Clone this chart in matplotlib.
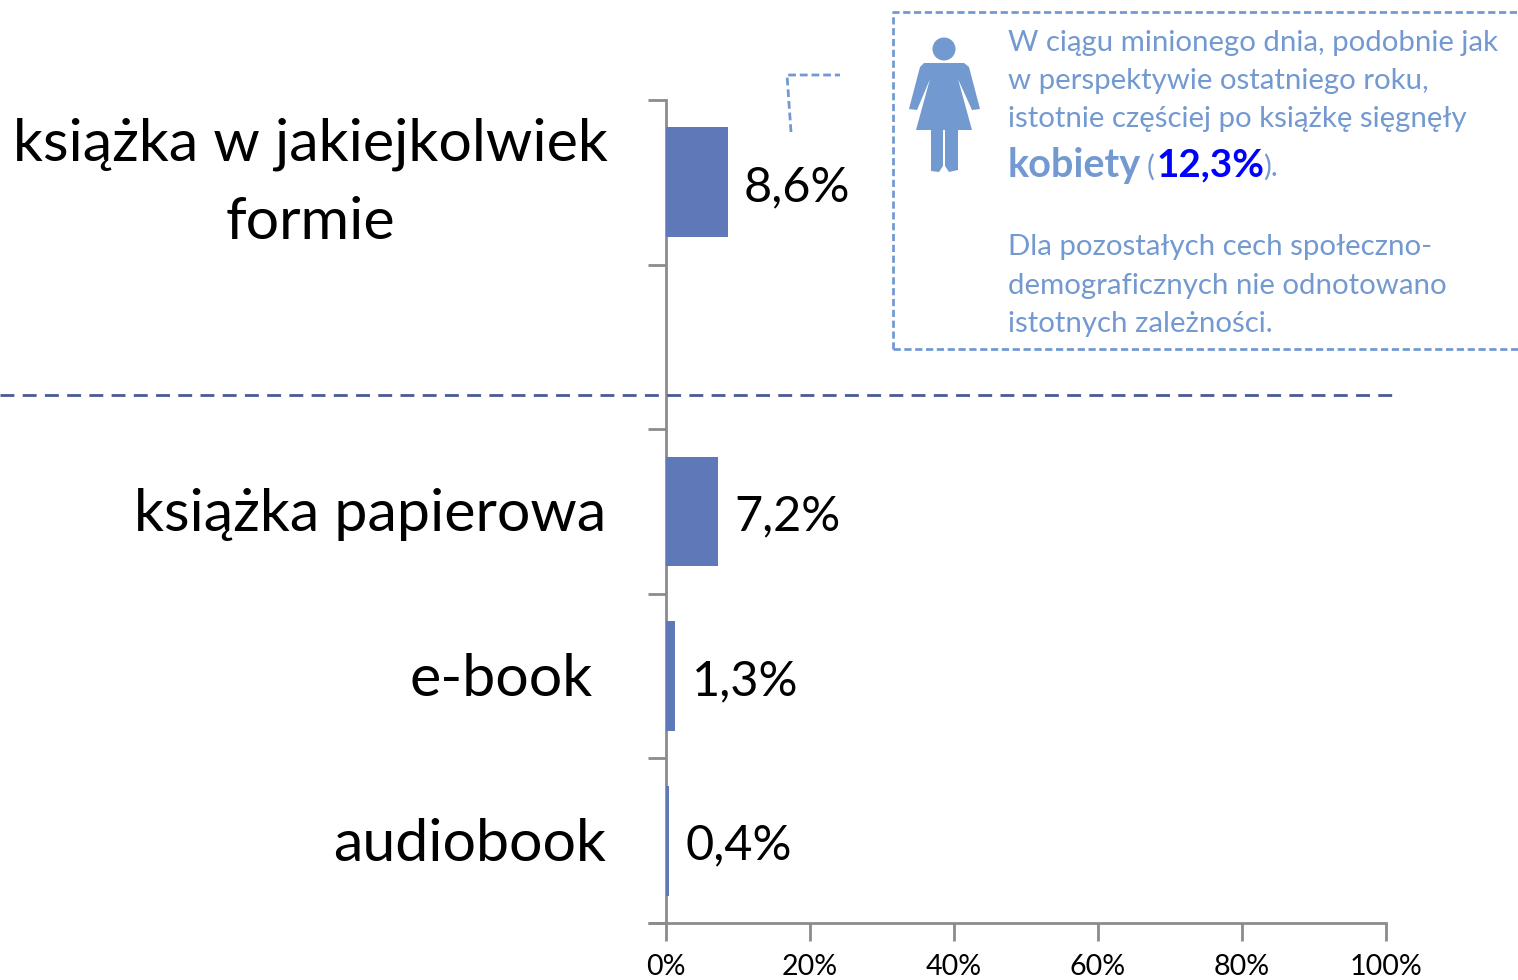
import numpy as np
import matplotlib
matplotlib.use("Agg")
import matplotlib.pyplot as plt
from matplotlib.patches import Circle, Polygon

plt.rcParams['font.family'] = ['Lato', 'DejaVu Sans']

categories = ["książka w jakiejkolwiek\nformie", "", "książka papierowa", "e-book", "audiobook"]
values = [8.6, None, 7.2, 1.3, 0.4]
value_labels = ["8,6%", "", "7,2%", "1,3%", "0,4%"]
xticks = [0, 20, 40, 60, 80, 100]
xticklabels = ["0%", "20%", "40%", "60%", "80%", "100%"]

note_lines = ["W ciągu minionego dnia, podobnie jak",
              "w perspektywie ostatniego roku,",
              "istotnie częściej po książkę sięgnęły"]
note_lines2 = ["Dla pozostałych cech społeczno-",
               "demograficznych nie odnotowano",
               "istotnych zależności."]

W, H = 1518, 980
BAR = "#5f78b7"
GREY = "#8c8c8c"
NOTE = "#7399d1"

fig = plt.figure(figsize=(W/100, H/100), dpi=100)
ax = fig.add_axes([666/W, (H-923)/H, 720/W, 823/H])

# bars
for i, v in enumerate(values):
    if v is None:
        continue
    ax.barh(i, v, height=0.667, left=0, color=BAR, zorder=3)
    ax.text(v + 2.25, i + 0.03, value_labels[i], fontsize=35, va='center', ha='left', color='black')

ax.set_xlim(0, 100)
ax.set_ylim(len(categories) - 0.5, -0.5)
ax.set_xticks(xticks)
ax.set_xticklabels(xticklabels, fontsize=20.6)
ax.set_yticks(np.arange(len(categories) + 1) - 0.5)
ax.set_yticklabels([])
ax.tick_params(axis='x', length=13, width=2, color=GREY, direction='out', pad=9)
ax.tick_params(axis='y', length=13, width=2, color=GREY, direction='out')
for s in ['top', 'right']:
    ax.spines[s].set_visible(False)
for s in ['left', 'bottom']:
    ax.spines[s].set_color(GREY)
    ax.spines[s].set_linewidth(2)
    ax.spines[s].set_zorder(1)

# overlay in pixel coordinates for labels and annotations
ov = fig.add_axes([0, 0, 1, 1], facecolor='none')
ov.set_xlim(0, W)
ov.set_ylim(H, 0)
ov.axis('off')

ov.plot([648, 666], [923, 923], color=GREY, lw=2, solid_capstyle='butt')

big = 42.6
ov.text(310, 144.5, "książka w jakiejkolwiek", fontsize=big, ha='center', va='center')
ov.text(310, 222.5, "formie", fontsize=big, ha='center', va='center')
ov.text(606, 514, categories[2], fontsize=big, ha='right', va='center')
ov.text(593, 679, categories[3], fontsize=big, ha='right', va='center')
ov.text(606, 844, categories[4], fontsize=big, ha='right', va='center')

# separator
ov.plot([0, 1392], [395, 395], color="#4a5a94", lw=2, dashes=(5, 3))

# note box and leader
ov.plot([893, 893, 1530], [349, 12, 12], color=NOTE, lw=2, dashes=(2.6, 1.3))
ov.plot([893, 1530], [349, 349], color=NOTE, lw=2, dashes=(2.6, 1.3))
ov.plot([791, 787, 840], [132, 75, 75], color=NOTE, lw=2, dashes=(2.8, 1.4))

note = 21.2
for y, line in zip([43, 81, 119], note_lines):
    ov.text(1008, y, line, fontsize=note, color=NOTE, va='center')
for y, line in zip([247, 286, 324], note_lines2):
    ov.text(1008, y, line, fontsize=note, color=NOTE, va='center')
ov.text(1008, 165, "kobiety", fontsize=28.5, fontweight='bold', color=NOTE, va='center')
ov.text(1147, 167, "(", fontsize=note, color=NOTE, va='center')
ov.text(1157, 165, "12,3%", fontsize=27.8, fontweight='bold', color="#0000ff", va='center')
ov.text(1263, 167, ").", fontsize=note, color=NOTE, va='center')

# woman icon
ov.add_patch(Circle((944, 49), 11.5, color=NOTE, lw=0))
ov.add_patch(Polygon([(924, 63), (964, 63), (969, 67), (980, 109), (972, 110), (958, 79),
                      (972, 130), (958, 130), (958, 170), (949, 172), (945, 166), (945, 130),
                      (943, 130), (943, 166), (939, 172), (931, 171), (931, 130), (916, 130),
                      (930, 79), (917, 110), (909, 109), (920, 67)], closed=True, color=NOTE, lw=0))

fig.savefig("out.png", dpi=100)
